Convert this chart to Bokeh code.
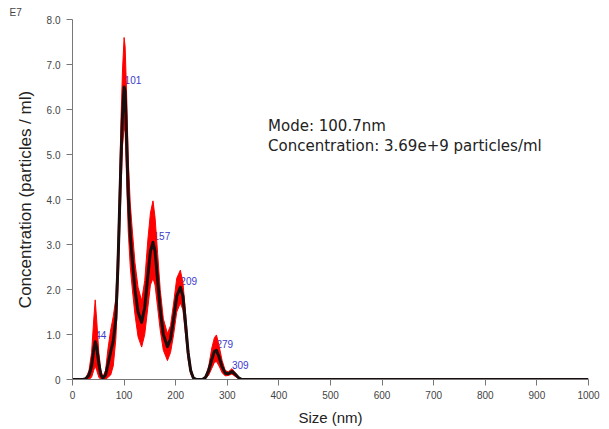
from bokeh.plotting import figure
from bokeh.models import Range1d, FixedTicker, Label, ColumnDataSource
from bokeh.embed import file_html
from bokeh.resources import INLINE

# Particle size (nm)
size = [0, 20, 26, 32, 37, 41, 44, 47, 51, 55, 59, 64, 69, 74, 79, 84, 88, 91, 94, 97,
        100, 102, 105, 108, 112, 116, 121, 127, 134, 140, 146, 151, 156, 160, 165, 170,
        176, 184, 190, 196, 202, 209, 214, 219, 224, 229, 234, 240, 252, 258, 264, 270,
        275, 279, 284, 290, 296, 302, 309, 315, 322, 328, 1000]
# Mean concentration (E7 particles / ml)
mean = [0, 0, 0.02, 0.1, 0.3, 0.65, 0.84, 0.7, 0.35, 0.1, 0.03, 0.1, 0.35, 0.62, 0.86, 1.35, 2.5, 3.7, 4.9, 5.9,
        6.5, 6.4, 5.3, 4.1, 3.2, 2.65, 2.0, 1.5, 1.27, 1.6, 2.3, 2.85, 3.05, 2.85, 2.2, 1.55,
        1.0, 0.73, 0.9, 1.35, 1.85, 2.05, 1.85, 1.25, 0.6, 0.2, 0.04, 0.0, 0.0, 0.05, 0.2, 0.45,
        0.62, 0.65, 0.5, 0.28, 0.14, 0.13, 0.18, 0.12, 0.04, 0.0, 0.0]
# Upper / lower error band
upper = [0, 0, 0.03, 0.2, 0.6, 1.3, 1.77, 1.3, 0.6, 0.2, 0.06, 0.2, 0.7, 1.1, 1.4, 1.8, 3.0, 4.3, 5.8, 6.9,
         7.6, 7.4, 6.3, 4.9, 3.9, 3.3, 2.6, 2.05, 1.75, 2.2, 3.1, 3.7, 3.97, 3.6, 2.8, 2.0,
         1.35, 1.02, 1.2, 1.7, 2.25, 2.43, 2.15, 1.5, 0.75, 0.28, 0.06, 0.01, 0.0, 0.08, 0.3, 0.7,
         0.93, 0.99, 0.75, 0.42, 0.2, 0.17, 0.24, 0.16, 0.06, 0.0, 0.0]
lower = [0, 0, 0.0, 0.0, 0.05, 0.2, 0.3, 0.2, 0.05, 0.0, 0.0, 0.0, 0.05, 0.1, 0.3, 0.9, 2.0, 3.1, 4.2, 5.2,
         5.6, 5.5, 4.4, 3.3, 2.5, 2.0, 1.45, 0.95, 0.72, 1.0, 1.6, 2.1, 2.25, 2.1, 1.6, 1.1,
         0.65, 0.42, 0.6, 1.0, 1.5, 1.7, 1.55, 1.0, 0.45, 0.12, 0.02, 0.0, 0.0, 0.02, 0.1, 0.25,
         0.38, 0.4, 0.3, 0.15, 0.08, 0.09, 0.12, 0.07, 0.02, 0.0, 0.0]

peak_sizes = [44, 101, 157, 209, 279, 309]
peak_values = [0.84, 6.5, 3.05, 2.05, 0.65, 0.18]
peak_labels = ["44", "101", "157", "209", "279", "309"]

x_ticks = [0, 100, 200, 300, 400, 500, 600, 700, 800, 900, 1000]
y_ticks = [0, 1, 2, 3, 4, 5, 6, 7, 8]
y_tick_labels = ["0", "1.0", "2.0", "3.0", "4.0", "5.0", "6.0", "7.0", "8.0"]

mode_text = "Mode: 100.7nm"
conc_text = "Concentration: 3.69e+9 particles/ml"

p = figure(width=609, height=429, output_backend="svg", toolbar_location=None,
           x_range=Range1d(0, 1000), y_range=Range1d(0, 8),
           min_border_left=72, min_border_right=21, min_border_top=19, min_border_bottom=50)
p.outline_line_color = None
p.xgrid.visible = False
p.ygrid.visible = False
p.background_fill_color = "white"

font = "Liberation Sans"
p.title.text = "E7"
p.title.align = "left"
p.title.offset = -63
p.title.standoff = 3
p.title.text_font = font
p.title.text_font_size = "10px"
p.title.text_font_style = "normal"
p.title.text_color = "#444444"

for ax in (p.xaxis[0], p.yaxis[0]):
    ax.axis_line_color = "#777777"
    ax.major_tick_line_color = "#777777"
    ax.minor_tick_line_color = None
    ax.major_tick_out = 6
    ax.major_tick_in = 0
    ax.major_label_text_font = font
    ax.major_label_text_font_size = "10px"
    ax.major_label_text_color = "#444444"
    ax.axis_label_text_font = font
    ax.axis_label_text_font_style = "normal"
    ax.axis_label_text_color = "#222222"

p.xaxis.axis_label_text_font_size = "15px"
p.yaxis.axis_label_text_font_size = "17px"
p.xaxis.ticker = FixedTicker(ticks=x_ticks)
p.yaxis.ticker = FixedTicker(ticks=y_ticks)
p.yaxis.major_label_overrides = {t: l for t, l in zip(y_ticks, y_tick_labels)}
p.xaxis.axis_label = "Size (nm)"
p.yaxis.axis_label = "Concentration (particles / ml)"
p.xaxis.major_label_standoff = 5
p.xaxis.axis_label_standoff = 7
p.yaxis.major_label_standoff = 6
p.yaxis.axis_label_standoff = 9

# peak labels (drawn beneath the band)
p.text(x=peak_sizes, y=[v + 0.15 for v in peak_values], text=peak_labels,
       text_font_size="10px", text_color="#3a3acd", text_baseline="middle", text_align="left")

src = ColumnDataSource(dict(size=size, mean=mean, upper=upper, lower=lower))
p.varea(x="size", y1="lower", y2="upper", source=src, fill_color="#ff0000")
p.line(x="size", y="upper", source=src, line_color="#ff0000", line_width=1)
p.line(x="size", y="lower", source=src, line_color="#ff0000", line_width=1)
p.line(x="size", y="mean", source=src, line_color="#1a0d0d", line_width=3, line_join="round")

p.add_layout(Label(x=379, y=5.63, text=mode_text, text_font="DejaVu Sans", text_font_size="15px",
                   text_color="#222222", text_baseline="alphabetic"))
p.add_layout(Label(x=379, y=5.20, text=conc_text, text_font="DejaVu Sans", text_font_size="15px",
                   text_color="#222222", text_baseline="alphabetic"))

open("out.html", "w").write(file_html(p, INLINE))
